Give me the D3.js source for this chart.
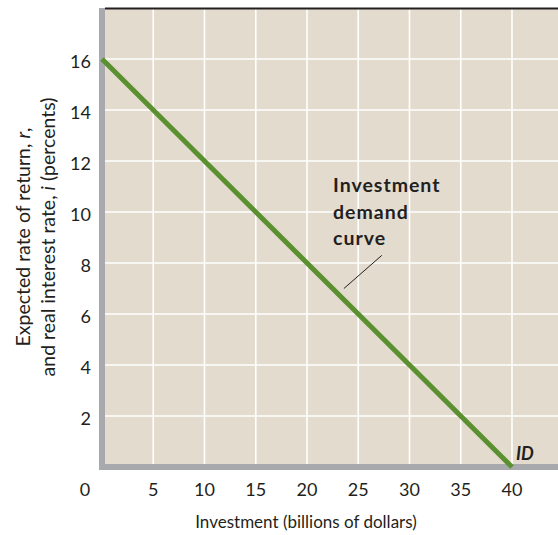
<!DOCTYPE html>
<html><head><meta charset="utf-8">
<script src="https://cdn.jsdelivr.net/npm/d3@7"></script>
<style>body{margin:0;background:#fff}svg{display:block}text{font-family:Lato,"Open Sans",sans-serif;fill:#231f20}</style>
</head><body>
<script>
const xTicks = [5, 10, 15, 20, 25, 30, 35, 40];
const yTicks = [2, 4, 6, 8, 10, 12, 14, 16];
const xGrid = [5, 10, 15, 20, 25, 30, 35, 40, 45];
const yGrid = [2, 4, 6, 8, 10, 12, 14, 16];
const investment = [0, 40];
const rate = [16, 0];
const annotationLines = ["Investment", "demand", "curve"];

const W = 558, H = 535;
const svg = d3.select("body").append("svg").attr("width", W).attr("height", H);
const x = d3.scaleLinear().domain([0, 40]).range([102, 512]);
const y = d3.scaleLinear().domain([0, 18]).range([467, 8]);

svg.append("rect").attr("x", x(0)).attr("y", y(18)).attr("width", W - x(0)).attr("height", y(0) - y(18)).attr("fill", "#e4dbcf");

svg.selectAll(".vg").data(xGrid).enter().append("line")
  .attr("x1", d => x(d)).attr("x2", d => x(d)).attr("y1", y(18)).attr("y2", y(0))
  .attr("stroke", "#fff").attr("stroke-width", 1.6);
svg.selectAll(".hg").data(yGrid).enter().append("line")
  .attr("x1", x(0)).attr("x2", W).attr("y1", d => y(d)).attr("y2", d => y(d))
  .attr("stroke", "#fff").attr("stroke-width", 1.6);

// top border
svg.append("line").attr("x1", x(0) + 3).attr("x2", W).attr("y1", y(18) + 0.5).attr("y2", y(18) + 0.5)
  .attr("stroke", "#231f20").attr("stroke-width", 2);
// axes bars
svg.append("line").attr("x1", x(0)).attr("x2", x(0)).attr("y1", y(18)).attr("y2", y(0) + 3)
  .attr("stroke", "#a7a9ac").attr("stroke-width", 6);
svg.append("line").attr("x1", x(0) - 3).attr("x2", W).attr("y1", y(0)).attr("y2", y(0))
  .attr("stroke", "#a7a9ac").attr("stroke-width", 6);

// demand line
const pts = investment.map((v, i) => [v, rate[i]]);
svg.append("path").datum(pts)
  .attr("d", d3.line().x(d => x(d[0])).y(d => y(d[1])))
  .attr("stroke", "#5a9030").attr("stroke-width", 5).attr("fill", "none");

// ticks
svg.selectAll(".xt").data(xTicks).enter().append("text")
  .attr("x", d => x(d)).attr("y", 496).attr("text-anchor", "middle").attr("font-size", 18).text(d => d);
svg.append("text").attr("x", 85).attr("y", 496).attr("text-anchor", "middle").attr("font-size", 18).text("0");
svg.selectAll(".yt").data(yTicks).enter().append("text")
  .attr("x", 91).attr("y", d => y(d) + 9).attr("text-anchor", "end").attr("font-size", 18).text(d => d);

// axis titles
svg.append("text").attr("x", 306).attr("y", 528).attr("text-anchor", "middle").attr("font-size", 17)
  .text("Investment (billions of dollars)");
const yt = svg.append("g").attr("transform", "translate(30,237) rotate(-90)");
yt.append("text").attr("x", 0).attr("y", 0).attr("font-size", 19.5).attr("text-anchor", "middle")
  .html('Expected rate of return, <tspan font-style="italic">r</tspan>,');
yt.append("text").attr("x", 0).attr("y", 25).attr("font-size", 19.5).attr("text-anchor", "middle")
  .html('and real interest rate, <tspan font-style="italic">i</tspan> (percents)');

// annotation
svg.selectAll(".ann").data(annotationLines).enter().append("text")
  .attr("x", 333).attr("y", (d, i) => 192 + i * 26.5).attr("font-size", 19.5).attr("font-weight", "bold")
  .attr("letter-spacing", 1).text(d => d);
svg.append("line").attr("x1", x(27.3)).attr("y1", y(8.3)).attr("x2", x(23.6)).attr("y2", y(7))
  .attr("stroke", "#231f20").attr("stroke-width", 1);

svg.append("text").attr("x", 516).attr("y", 460).attr("font-size", 18).attr("font-weight", "bold")
  .attr("font-style", "italic").text("ID");
</script>
</body></html>
